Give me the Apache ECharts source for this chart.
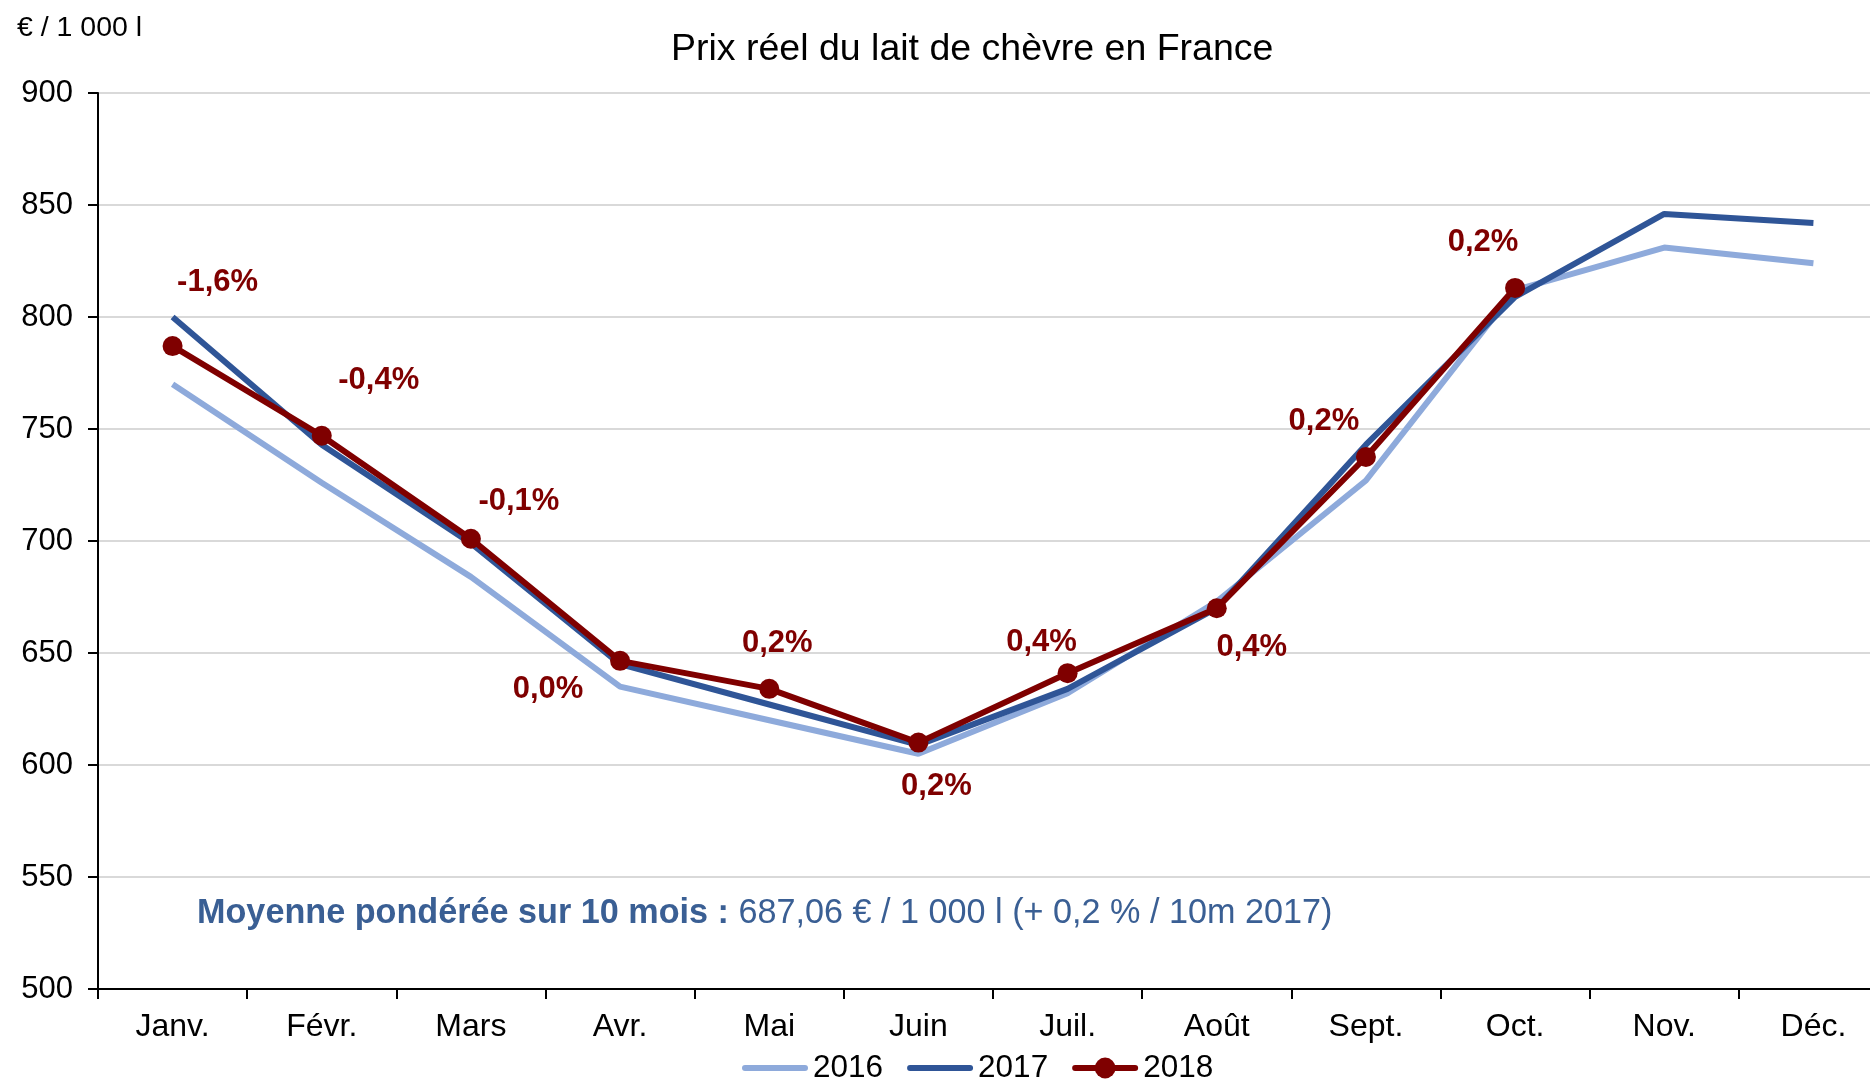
<!DOCTYPE html>
<html>
<head>
<meta charset="utf-8">
<script src="https://cdn.jsdelivr.net/npm/echarts@6/dist/echarts.min.js"></script>
<style>
  html, body { margin: 0; padding: 0; background: #fff; }
  #chart { width: 1870px; height: 1080px; }
</style>
</head>
<body>
<div id="chart"></div>
<script>
// mois
var months = ['Janv.', 'Févr.', 'Mars', 'Avr.', 'Mai', 'Juin', 'Juil.', 'Août', 'Sept.', 'Oct.', 'Nov.', 'Déc.'];

// prix réel, € / 1 000 l
var prix2016 = [770, 726, 684, 635, 620, 605, 632, 673, 727, 812, 831, 824];
var prix2017 = [800, 743, 699, 645, 627, 609, 634, 670, 743, 809, 846, 842];
var prix2018 = [787, 747, 701, 646.5, 634, 610, 641, 670, 737.5, 813];

// évolution 2018 / 2017
var evol2018 = ['-1,6%', '-0,4%', '-0,1%', '0,0%', '0,2%', '0,2%', '0,4%', '0,4%', '0,2%', '0,2%'];

// décalage des étiquettes (px)
var labelOffsets = [[45, -64], [57, -55], [48, -37], [-72, 29], [8, -45], [18, 44], [-26, -31], [35, 39], [-42, -36], [-32, -45]];

var yTicks = { min: 500, max: 900, step: 50 };

var FONT = '"Liberation Sans", Arial, sans-serif';

var chart = echarts.init(document.getElementById('chart'), null, { renderer: 'canvas' });

var data2018 = prix2018.map(function (v, i) {
  return {
    value: v,
    label: {
      show: true,
      position: 'inside',
      offset: labelOffsets[i],
      formatter: evol2018[i]
    }
  };
});

var option = {
  backgroundColor: '#ffffff',
  animation: false,
  title: [
    {
      text: 'Prix réel du lait de chèvre en France',
      left: 666,
      top: 26,
      textStyle: { fontFamily: FONT, fontWeight: 'normal', fontSize: 37.5, color: '#000' }
    },
    {
      text: '€ / 1 000 l',
      left: 12,
      top: 9,
      textStyle: { fontFamily: FONT, fontWeight: 'normal', fontSize: 28.5, color: '#000' }
    }
  ],
  legend: {
    top: 1047,
    left: 737,
    itemWidth: 60,
    itemHeight: 26,
    itemGap: 24,
    lineStyle: { width: 6, cap: 'round' },
    textStyle: { fontFamily: FONT, fontSize: 31.5, color: '#000', padding: [0, 0, 0, 3] },
    data: [
      { name: '2016', itemStyle: { opacity: 0 } },
      { name: '2017', itemStyle: { opacity: 0 } },
      { name: '2018' }
    ]
  },
  grid: {
    left: 98,
    top: 93,
    width: 1790,
    bottom: 91,
    containLabel: false,
    outerBoundsMode: 'none'
  },
  xAxis: {
    type: 'category',
    data: months,
    boundaryGap: true,
    axisLine: { lineStyle: { color: '#000', width: 2 } },
    axisTick: { show: true, length: 10, lineStyle: { color: '#000', width: 2 } },
    axisLabel: { margin: 22, fontFamily: FONT, fontSize: 32, color: '#000' },
    splitLine: { show: false }
  },
  yAxis: {
    type: 'value',
    min: yTicks.min,
    max: yTicks.max,
    interval: yTicks.step,
    axisLine: { show: true, lineStyle: { color: '#000', width: 2 } },
    axisTick: { show: true, length: 10, lineStyle: { color: '#000', width: 2 } },
    axisLabel: { margin: 25, fontFamily: FONT, fontSize: 31, color: '#000' },
    splitLine: { lineStyle: { color: '#d9d9d9', width: 2 } }
  },
  graphic: [
    {
      type: 'text',
      left: 197,
      top: 897,
      style: {
        text: '{b|Moyenne pondérée sur 10 mois : }{n|687,06 € / 1 000 l (+ 0,2 % / 10m 2017)}',
        rich: {
          b: { fontFamily: FONT, fontSize: 34.2, fontWeight: 'bold', fill: '#3a5f94' },
          n: { fontFamily: FONT, fontSize: 34.2, fontWeight: 'normal', fill: '#3a5f94' }
        }
      }
    }
  ],
  series: [
    {
      name: '2016',
      type: 'line',
      data: prix2016,
      symbol: 'none',
      lineStyle: { color: '#8eaadb', width: 6 },
      itemStyle: { color: '#8eaadb' },
      z: 2
    },
    {
      name: '2017',
      type: 'line',
      data: prix2017,
      symbol: 'none',
      lineStyle: { color: '#2f5597', width: 6 },
      itemStyle: { color: '#2f5597' },
      z: 3
    },
    {
      name: '2018',
      type: 'line',
      data: data2018,
      symbol: 'circle',
      symbolSize: 20,
      lineStyle: { color: '#7f0000', width: 6 },
      itemStyle: { color: '#7f0000' },
      label: {
        fontFamily: FONT,
        fontSize: 31,
        fontWeight: 'bold',
        color: '#7f0000',
        align: 'center',
        verticalAlign: 'middle'
      },
      z: 4
    }
  ]
};

chart.setOption(option);
</script>
</body>
</html>
